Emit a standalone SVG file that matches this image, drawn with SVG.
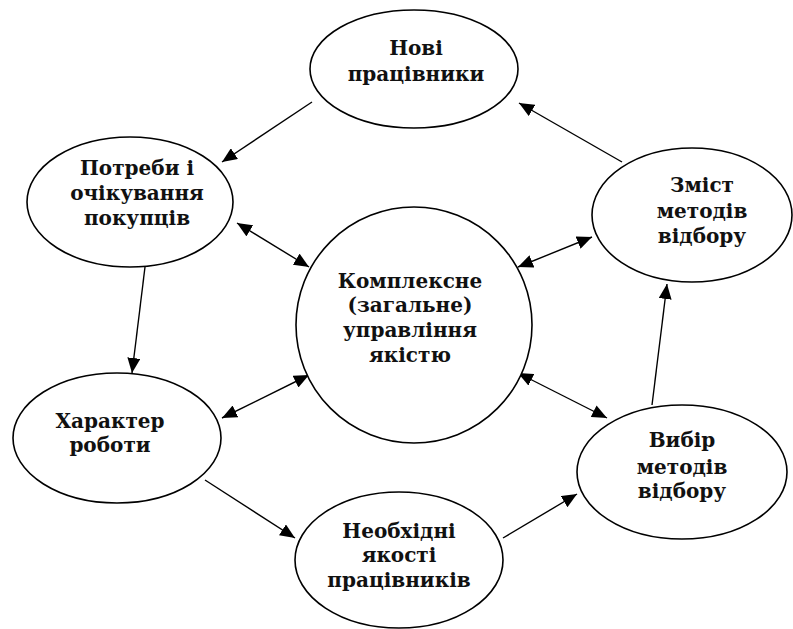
<svg xmlns="http://www.w3.org/2000/svg" width="793" height="629" viewBox="0 0 793 629">
<style>
  .node ellipse { fill: #ffffff; stroke: #000000; stroke-width: 1.6; }
  .node text { font-family: "DejaVu Serif", "Liberation Serif", serif; font-weight: bold; font-size: 20px; fill: #111111; text-anchor: middle; }
  .conn line { stroke: #000000; stroke-width: 1.4; }
</style>
<defs>
  <marker id="ah" markerUnits="userSpaceOnUse" markerWidth="16" markerHeight="13" refX="15" refY="6.5" orient="auto-start-reverse" viewBox="0 0 16 13">
    <path d="M0,0 L15,6.5 L0,13 z" fill="#000000"/>
  </marker>
</defs>
<rect width="793" height="629" fill="#ffffff"/>

<g id="connectors" class="conn">
  <line x1="312" y1="102" x2="222" y2="162" marker-end="url(#ah)"/>
  <line x1="622" y1="162" x2="519" y2="103" marker-end="url(#ah)"/>
  <line x1="237" y1="223" x2="309" y2="267" marker-start="url(#ah)" marker-end="url(#ah)"/>
  <line x1="592" y1="237" x2="518" y2="267" marker-start="url(#ah)" marker-end="url(#ah)"/>
  <line x1="145" y1="267" x2="132" y2="373" marker-end="url(#ah)"/>
  <line x1="222" y1="418" x2="309" y2="375" marker-start="url(#ah)" marker-end="url(#ah)"/>
  <line x1="205" y1="480" x2="295" y2="538" marker-end="url(#ah)"/>
  <line x1="503" y1="538" x2="577" y2="494" marker-end="url(#ah)"/>
  <line x1="518" y1="373" x2="607" y2="418" marker-start="url(#ah)" marker-end="url(#ah)"/>
  <line x1="652" y1="405" x2="667" y2="284" marker-end="url(#ah)"/>
</g>

<g id="node-novi" class="node">
  <ellipse cx="414" cy="69" rx="104" ry="59"/>
  <text x="416" y="55">Нові</text>
  <text x="416" y="81">працівники</text>
</g>

<g id="node-potreby" class="node">
  <ellipse cx="130" cy="202" rx="103" ry="65"/>
  <text x="137" y="175">Потреби і</text>
  <text x="137" y="200">очікування</text>
  <text x="137" y="225">покупців</text>
</g>

<g id="node-zmist" class="node">
  <ellipse cx="692" cy="215" rx="100" ry="67"/>
  <text x="702" y="192">Зміст</text>
  <text x="702" y="218">методів</text>
  <text x="702" y="243">відбору</text>
</g>

<g id="node-center" class="node">
  <ellipse cx="414" cy="325" rx="118" ry="118"/>
  <text x="410" y="288">Комплексне</text>
  <text x="410" y="312">(загальне)</text>
  <text x="410" y="337">управління</text>
  <text x="410" y="362">якістю</text>
</g>

<g id="node-kharakter" class="node">
  <ellipse cx="117" cy="438" rx="104" ry="65"/>
  <text x="110" y="428">Характер</text>
  <text x="110" y="452">роботи</text>
</g>

<g id="node-vybir" class="node">
  <ellipse cx="682" cy="472" rx="105" ry="67"/>
  <text x="682" y="447">Вибір</text>
  <text x="682" y="474">методів</text>
  <text x="682" y="498">відбору</text>
</g>

<g id="node-neobkhidni" class="node">
  <ellipse cx="399" cy="560" rx="104" ry="68"/>
  <text x="399" y="538">Необхідні</text>
  <text x="399" y="562">якості</text>
  <text x="399" y="587">працівників</text>
</g>
</svg>
